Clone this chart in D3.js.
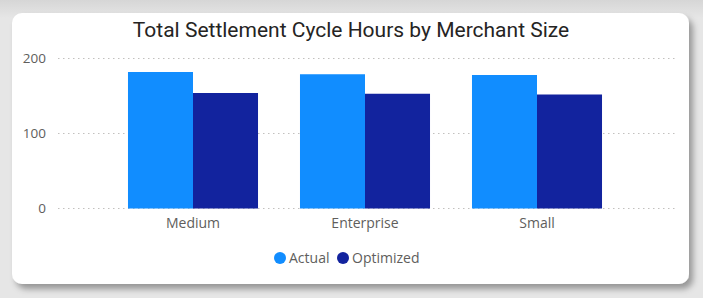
<!DOCTYPE html>
<html>
<head>
<meta charset="utf-8">
<script src="https://cdn.jsdelivr.net/npm/d3@7"></script>
<style>
  html, body { margin: 0; padding: 0; background: #e4e4e4; }
  svg { display: block; }
</style>
</head>
<body>
<div id="chart"></div>
<script>
const categories = ['Medium', 'Enterprise', 'Small'];
const seriesNames = ['Actual', 'Optimized'];
const actual = [182, 179, 178];
const optimized = [154, 153, 152];
const yTicks = [0, 100, 200];
const colors = ['#118DFF', '#12239E'];

const width = 703;
const height = 298;

const svg = d3.select('#chart')
  .append('svg')
  .attr('width', width)
  .attr('height', height)
  .attr('viewBox', [0, 0, width, height]);

// background + card shadow
const defs = svg.append('defs');
const bg = defs.append('linearGradient').attr('id', 'bg').attr('x1', 0).attr('y1', 0).attr('x2', 0).attr('y2', 1);
bg.append('stop').attr('offset', '0%').attr('stop-color', '#d6d6d6');
bg.append('stop').attr('offset', '6%').attr('stop-color', '#e6e6e6');
bg.append('stop').attr('offset', '100%').attr('stop-color', '#e6e6e6');
const shadow = defs.append('filter').attr('id', 'shadow')
  .attr('x', '-10%').attr('y', '-10%').attr('width', '120%').attr('height', '130%');
shadow.append('feDropShadow')
  .attr('dx', 4).attr('dy', 5).attr('stdDeviation', 3)
  .attr('flood-color', '#000').attr('flood-opacity', 0.35);

svg.append('rect').attr('width', width).attr('height', height).attr('fill', 'url(#bg)');
svg.append('rect')
  .attr('x', 12).attr('y', 13)
  .attr('width', 677).attr('height', 271)
  .attr('rx', 10)
  .attr('fill', '#fff')
  .attr('filter', 'url(#shadow)');

// title
svg.append('text')
  .attr('x', 351)
  .attr('y', 37)
  .attr('text-anchor', 'middle')
  .attr('font-family', 'Roboto, "DejaVu Sans", sans-serif')
  .attr('font-weight', 400)
  .attr('font-size', '21px')
  .attr('fill', '#252423')
  .text('Total Settlement Cycle Hours by Merchant Size');

const x = d3.scaleBand()
  .domain(categories)
  .range([107, 623])
  .paddingInner(0.244)
  .paddingOuter(0.122);

const xs = d3.scaleBand()
  .domain(seriesNames)
  .range([0, x.bandwidth()]);

const y = d3.scaleLinear()
  .domain([0, 200])
  .range([208.5, 58.5]);

// gridlines
const grid = svg.append('g');
grid.selectAll('line')
  .data(yTicks)
  .enter()
  .append('line')
  .attr('x1', 58)
  .attr('x2', 677)
  .attr('y1', d => y(d))
  .attr('y2', d => y(d))
  .attr('stroke', '#c2c0be')
  .attr('stroke-width', 1)
  .attr('stroke-dasharray', '1.5,3.5');

// y axis labels
const yAxisG = svg.append('g')
  .attr('transform', 'translate(46,0)')
  .call(d3.axisLeft(y).tickValues(yTicks).tickSize(0).tickPadding(0));
yAxisG.select('.domain').remove();
yAxisG.selectAll('text')
  .attr('font-family', '"Segoe UI", "Open Sans", sans-serif')
  .attr('font-size', '13.5px')
  .attr('fill', '#605E5C');

// bars
const data = categories.map((c, i) => ({ cat: c, values: [actual[i], optimized[i]] }));
const groups = svg.selectAll('g.group')
  .data(data)
  .enter()
  .append('g')
  .attr('class', 'group')
  .attr('transform', d => `translate(${x(d.cat)},0)`);

groups.selectAll('rect')
  .data(d => d.values.map((v, j) => ({ name: seriesNames[j], v: v, j: j })))
  .enter()
  .append('rect')
  .attr('x', d => xs(d.name))
  .attr('width', xs.bandwidth())
  .attr('y', d => y(d.v))
  .attr('height', d => y(0) - y(d.v))
  .attr('fill', d => colors[d.j]);

// x axis labels
const xAxisG = svg.append('g')
  .attr('transform', 'translate(0,218)')
  .call(d3.axisBottom(x).tickSize(0).tickPadding(0));
xAxisG.select('.domain').remove();
xAxisG.selectAll('text')
  .attr('font-family', '"Segoe UI", "Open Sans", sans-serif')
  .attr('font-size', '14px')
  .attr('fill', '#605E5C');

// legend
const legendX = [280, 343];
const legend = svg.append('g');
const items = legend.selectAll('g')
  .data(seriesNames)
  .enter()
  .append('g')
  .attr('transform', (d, i) => `translate(${legendX[i]},258)`);
items.append('circle')
  .attr('r', 6)
  .attr('fill', (d, i) => colors[i]);
items.append('text')
  .attr('x', 9)
  .attr('y', 5)
  .attr('font-family', '"Segoe UI", "Open Sans", sans-serif')
  .attr('font-size', '14px')
  .attr('fill', '#605E5C')
  .text(d => d);
</script>
</body>
</html>
